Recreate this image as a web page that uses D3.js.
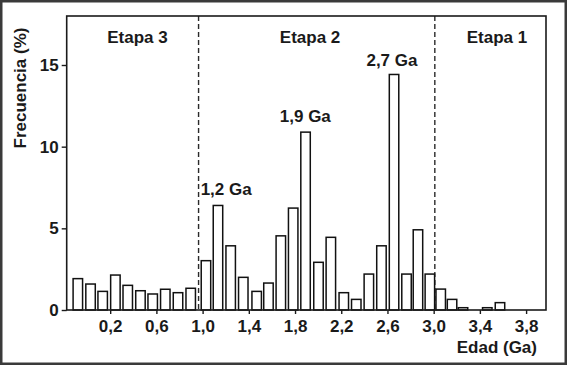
<!DOCTYPE html>
<html><head><meta charset="utf-8">
<script src="https://cdn.jsdelivr.net/npm/d3@7"></script>
<style>
html,body{margin:0;padding:0;background:#fff;}
svg{display:block;}
text{font-family:"Liberation Sans",Arial,Helvetica,sans-serif;font-weight:bold;fill:#1a1a1a;}
</style>
</head><body>
<svg id="chart" width="567" height="365"></svg>
<script>
// ---- data ----
const binAges = [-0.08, 0.03, 0.135, 0.245, 0.352, 0.462, 0.568, 0.677, 0.787, 0.897,
                 1.029, 1.133, 1.243, 1.352, 1.468, 1.57, 1.677, 1.784, 1.891, 2.003,
                 2.11, 2.222, 2.33, 2.439, 2.548, 2.657, 2.765, 2.864, 2.967,
                 3.061, 3.159, 3.254, 3.464, 3.574];
const frequencies = [1.92, 1.59, 1.14, 2.14, 1.51, 1.18, 0.98, 1.27, 1.06, 1.33,
                     3.02, 6.40, 3.93, 2.0, 1.14, 1.65, 4.54, 6.24, 10.89, 2.92,
                     4.45, 1.06, 0.65, 2.2, 3.93, 14.42, 2.2, 4.91, 2.2,
                     1.28, 0.65, 0.14, 0.14, 0.45];
const xTicks = [0.2, 0.6, 1.0, 1.4, 1.8, 2.2, 2.6, 3.0, 3.4, 3.8];
const xTickLabels = ["0,2", "0,6", "1,0", "1,4", "1,8", "2,2", "2,6", "3,0", "3,4", "3,8"];
const yTicks = [0, 5, 10, 15];
const yTickLabels = ["0", "5", "10", "15"];
const stageBoundaries = [0.965, 3.01];
const stageLabels = ["Etapa 3", "Etapa 2", "Etapa 1"];
const stageLabelAges = [0.436, 1.93, 3.548];
const peakLabels = ["1,2 Ga", "1,9 Ga", "2,7 Ga"];
const peakLabelAges = [1.204, 1.889, 2.639];
const peakLabelFreqs = [7.04, 11.53, 14.94];
const binWidth = 0.082;

// ---- layout ----
const plot = {left: 66.7, top: 16, right: 546, bottom: 310};
const FS = 17;
const svg = d3.select("#chart");

svg.append("rect").attr("x", 1.25).attr("y", 1.25).attr("width", 564.5).attr("height", 362.5)
  .attr("fill", "#fff").attr("stroke", "#3a3a3a").attr("stroke-width", 2.5);

const x = d3.scaleLinear().domain([-0.1764, 3.9723]).range([plot.left, plot.right]);
const y = d3.scaleLinear().domain([0, 18]).range([plot.bottom, plot.top]);
const bw = x(binWidth) - x(0);

// stage dashed lines
svg.append("g").selectAll("line").data(stageBoundaries).join("line")
  .attr("x1", d => x(d)).attr("x2", d => x(d))
  .attr("y1", plot.top).attr("y2", plot.bottom)
  .attr("stroke", "#2a2a2a").attr("stroke-width", 1.4).attr("stroke-dasharray", "5,3");

// bars
svg.append("g").selectAll("rect").data(binAges).join("rect")
  .attr("x", d => x(d) - bw / 2)
  .attr("width", bw)
  .attr("y", (d, i) => y(frequencies[i]))
  .attr("height", (d, i) => y(0) - y(frequencies[i]))
  .attr("fill", "#fff").attr("stroke", "#111").attr("stroke-width", 1.5);

// frame
svg.append("rect").attr("x", plot.left).attr("y", plot.top)
  .attr("width", plot.right - plot.left).attr("height", plot.bottom - plot.top)
  .attr("fill", "none").attr("stroke", "#1a1a1a").attr("stroke-width", 1.6);

// axes
const xAxis = svg.append("g").attr("transform", `translate(0,${plot.bottom})`)
  .call(d3.axisBottom(x).tickValues(xTicks).tickFormat((d, i) => xTickLabels[i]).tickSize(4).tickPadding(6));
const yAxis = svg.append("g").attr("transform", `translate(${plot.left},0)`)
  .call(d3.axisLeft(y).tickValues(yTicks).tickFormat((d, i) => yTickLabels[i]).tickSize(5).tickPadding(3));
[xAxis, yAxis].forEach(g => {
  g.select(".domain").remove();
  g.attr("font-family", null).attr("font-size", null);
  g.selectAll("line").attr("stroke", "#1a1a1a").attr("stroke-width", 1.4);
  g.selectAll("text").attr("font-size", FS).attr("fill", "#1a1a1a");
});

// stage labels
svg.append("g").selectAll("text").data(stageLabels).join("text")
  .attr("x", (d, i) => x(stageLabelAges[i])).attr("y", 42.7)
  .attr("text-anchor", "middle").attr("font-size", FS).text(d => d);

// peak labels
svg.append("g").selectAll("text").data(peakLabels).join("text")
  .attr("x", (d, i) => x(peakLabelAges[i])).attr("y", (d, i) => y(peakLabelFreqs[i]))
  .attr("text-anchor", "middle").attr("font-size", FS).text(d => d);

// axis titles
svg.append("text").attr("transform", "translate(26,88) rotate(-90)")
  .attr("text-anchor", "middle").attr("font-size", FS).text("Frecuencia (%)");
svg.append("text").attr("x", 537).attr("y", 353)
  .attr("text-anchor", "end").attr("font-size", FS).text("Edad (Ga)");
</script>
</body></html>
